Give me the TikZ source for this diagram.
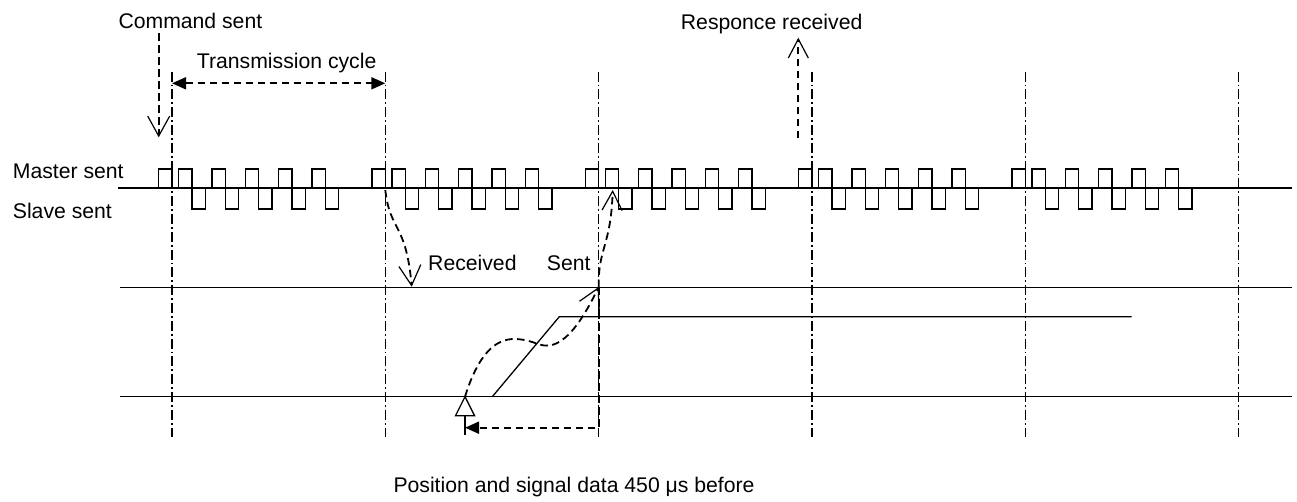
\documentclass[tikz,border=0pt]{standalone}
\usepackage{fontspec}
\setmainfont{Liberation Sans}
\usetikzlibrary{arrows.meta}
\begin{document}
\begin{tikzpicture}[x=1pt,y=-1pt,
  lbl/.style={anchor=base west,inner sep=0pt,font=\fontsize{21.2}{25}\selectfont},
  sig/.style={line width=1.3pt},
  gridline/.style={line width=1.6pt, dash pattern=on 10pt off 3pt on 1.8pt off 3pt},
  dsh/.style={line width=1.8pt, dash pattern=on 7.5pt off 4.5pt},
  barb/.style={-{Straight Barb[length=20pt,width=22pt,line width=1.2pt]}},
  trib/.style={{Triangle[length=14pt,width=12pt]}-{Triangle[length=14pt,width=12pt]}},
  trie/.style={-{Triangle[length=14pt,width=12pt]}}
]
\useasboundingbox (0,0) rectangle (1297,501);

% horizontal lines
\coordinate (m0) at (118,188);   \coordinate (m1) at (1292,188);
\coordinate (r0) at (120,287.3); \coordinate (r1) at (1292,287.3);
\coordinate (p0) at (120,396.7); \coordinate (p1) at (1292,396.7);
\draw[sig] (m0) -- (m1);
\draw[sig] (r0) -- (r1);
\draw[sig] (p0) -- (p1);

% ramp and short line
\coordinate (rampA) at (492.3,396.7);
\coordinate (rampB) at (559.3,316.7);
\coordinate (rampC) at (1131.7,316.7);
\draw[sig] (rampA) -- (rampB) -- (rampC);

% vertical dash-dot lines
\foreach \i in {0,...,5}{
  \pgfmathsetmacro\xx{172+213.333*\i}
  \coordinate (vt\i) at (\xx,71.5);
  \coordinate (vb\i) at (\xx,437);
  \draw[gridline] (vt\i) -- (vb\i);
}

% pulses
\foreach \g in {0,...,4}{
  \pgfmathsetmacro\X{172+213.333*\g}
  \draw[sig] (\X-13.333,188) -- ++(0,-19) -- ++(13.333,0) -- ++(0,19);
  \foreach \k in {0,...,4}{
    \pgfmathsetmacro\a{\X+6.667+33.333*\k}
    \draw[sig] (\a,188) -- ++(0,-19) -- ++(13.333,0) -- ++(0,40) -- ++(13.333,0) -- ++(0,-21);
  }
}

% labels
\node[lbl] (cmd) at (118.3,28.5) {Command sent};
\node[lbl] (tc) at (196.7,68.3) {Transmission cycle};
\node[lbl] (resp) at (680.7,29.5) {Responce received};
\node[lbl] (ms) at (12.7,178.3) {Master sent};
\node[lbl] (ss) at (12.7,218.3) {Slave sent};
\node[lbl] (rcv) at (428,270) {Received};
\node[lbl] (snt) at (546.7,270) {Sent};
\node[lbl] (pos) at (393.3,492.7) {Position and signal data 450 μs before};

% command sent arrow
\coordinate (cmdS) at (158.7,33);
\coordinate (cmdE) at (158.7,137.3);
\draw[dsh,barb] (cmdS) -- (cmdE);

% response arrow
\coordinate (respS) at (798.3,138.3);
\coordinate (respE) at (798.3,37.7);
\draw[dsh,-{Straight Barb[length=19pt,width=20pt,line width=1.2pt]}] (respS) -- (respE);

% transmission cycle
\coordinate (tcA) at (172,83.3);
\coordinate (tcB) at (385.3,83.3);
\draw[dsh,trib] (tcA) -- (tcB);

% received curve
\coordinate (rcS) at (385.3,190);
\coordinate (rcE) at (411.7,286.7);
\draw[dsh,barb] (rcS) .. controls (390,232) and (406,222) .. (rcE);

% sent curve
\coordinate (snS) at (598.7,287);
\coordinate (snE) at (612.7,190);
\draw[dsh,-{Straight Barb[length=19pt,width=20pt,line width=1.2pt]}] (snS) .. controls (598,248) and (611,246) .. (snE);

% triangle
\coordinate (triT) at (465,396.7);
\coordinate (triL) at (455.5,415.7);
\coordinate (triR) at (474.5,415.7);
\coordinate (triB) at (465,415.7);
\coordinate (triS) at (465,435);
\draw[sig] (triT) -- (triL) -- (triR) -- cycle;
\draw[sig] (triB) -- (triS);

% curve from triangle to sent point
\draw[dsh,-{Straight Barb[length=20pt,width=22pt,line width=1.2pt]}] (triT) .. controls (478,355) and (495,338) .. (516,339)
  .. controls (535,340) and (540,348) .. (552,345)
  .. controls (570,340) and (585,315) .. (snS);

% back arrow
\coordinate (bkA) at (598.7,427.7);
\coordinate (bkB) at (465,427.7);
\draw[dsh,trie] (snS) -- (bkA) -- (bkB);
\end{tikzpicture}
\end{document}
